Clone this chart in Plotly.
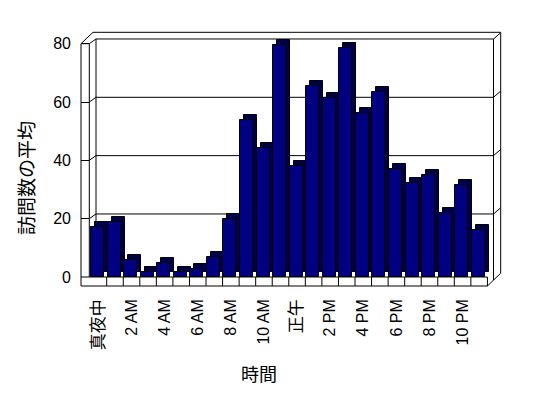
import plotly.graph_objects as go

# ---------------- data ----------------
hours = ["真夜中", "1 AM", "2 AM", "3 AM", "4 AM", "5 AM", "6 AM", "7 AM",
         "8 AM", "9 AM", "10 AM", "11 AM", "正午", "1 PM", "2 PM", "3 PM",
         "4 PM", "5 PM", "6 PM", "7 PM", "8 PM", "9 PM", "10 PM", "11 PM"]
avg_visits = [17.2, 18.9, 5.9, 1.6, 4.8, 1.6, 2.9, 6.9, 19.9, 53.7, 44.3, 79.7,
              38.2, 65.4, 61.4, 78.6, 56.3, 63.5, 37.1, 32.3, 35.0, 22.1, 31.4, 16.2]
y_tick_values = [0, 20, 40, 60, 80]
x_title = "時間"
y_title = "訪問数の平均"

# ---------------- layout constants (page pixels) ----------------
PAGE_W, PAGE_H = 548, 398
BODY = 8                                   # default page body margin
W, H = PAGE_W - BODY, PAGE_H - BODY
ML, MR, MT, MB = 81, 47, 32, 121           # plot domain in page pixels
Y_MAX = 84
X_RANGE = [-1.053, 24.32]
PLOT_W = PAGE_W - ML - MR
PLOT_H = PAGE_H - MT - MB
PPU = PLOT_H / Y_MAX                       # px per y unit
PPC = PLOT_W / (X_RANGE[1] - X_RANGE[0])   # px per category
FLOOR_Y = PAGE_H - MB                      # page px of y=0

FRONT_OFF = -7.425 / PPC
BAR_W = 13.0 / PPC
DEPTH_X = 4.0 / PPC
DEPTH_Y = 5.0 / PPU

NAVY = "#000080"
SHADE = "#000048"
FONT = "Liberation Sans, Arial, Noto Sans CJK JP, sans-serif"


def px(xp):
    return (xp - ML) / PLOT_W


def py(yp):
    return (FLOOR_Y - yp) / PLOT_H


def ypix(v):
    return FLOOR_Y - v * PPU


def is_cjk(s):
    return any(ord(c) > 0x2E80 for c in s)


def tick_text(s):
    if is_cjk(s):
        return '<span style="font-size:17px">%s</span>' % s
    return s


fig = go.Figure()

# depth (side/top) faces
fig.add_trace(go.Bar(
    x=hours, y=avg_visits, base=DEPTH_Y,
    offset=FRONT_OFF + DEPTH_X, width=BAR_W,
    marker=dict(color=SHADE, line=dict(color="black", width=1)),
    hoverinfo="skip", showlegend=False))

# front faces
fig.add_trace(go.Bar(
    x=hours, y=avg_visits,
    offset=FRONT_OFF, width=BAR_W,
    marker=dict(color=NAVY, line=dict(color="black", width=1)),
    showlegend=False))

shapes = []


def pline(x0, y0, x1, y1, layer="below"):
    shapes.append(dict(type="line", xref="paper", yref="paper",
                       x0=px(x0), y0=py(y0), x1=px(x1), y1=py(y1),
                       line=dict(color="black", width=1), layer=layer))


# wall geometry in page pixels
L_OUT, L_IN, B_L, B_R, R_OUT = 81, 89.3, 96, 493.5, 500.7
TOP_OUT = 32.3
BACK_DY = 4.7
RIGHT_DY = 6.2
top_front = ypix(80)
last = len(hours) - 0.5
xr = ML + (last - X_RANGE[0]) * PPC        # right end of floor front

pline(L_OUT, top_front, L_OUT, FLOOR_Y + 9)
pline(L_IN, top_front, L_IN, FLOOR_Y)
pline(L_OUT, top_front, L_IN, top_front)
pline(L_OUT, top_front, 93, TOP_OUT)
pline(93, TOP_OUT, R_OUT, TOP_OUT)
pline(R_OUT, TOP_OUT, R_OUT, FLOOR_Y - 3.8)
pline(B_R, top_front - BACK_DY, B_R, FLOOR_Y + 3)
pline(B_L, top_front - BACK_DY, B_L, FLOOR_Y - BACK_DY)

# gridlines on walls, tied to the y scale
for v in y_tick_values[1:]:
    yb = v + BACK_DY / PPU
    yr = v + (BACK_DY + RIGHT_DY) / PPU
    for (xa, ya, xb, yb2) in [(px(L_IN), v, px(B_L), yb),
                              (px(B_L), yb, px(B_R), yb),
                              (px(B_R), yb, px(R_OUT), yr)]:
        shapes.append(dict(type="line", xref="paper", yref="y",
                           x0=xa, y0=ya, x1=xb, y1=yb2,
                           line=dict(color="black", width=1), layer="below"))

# floor slab
for yy in (FLOOR_Y, FLOOR_Y + 9):
    shapes.append(dict(type="line", xref="paper", yref="paper", x0=0, x1=px(xr),
                       y0=py(yy), y1=py(yy), line=dict(color="black", width=1)))
for i in range(len(hours)):
    shapes.append(dict(type="line", xref="x", yref="paper", x0=i + 0.5, x1=i + 0.5,
                       y0=py(FLOOR_Y), y1=py(FLOOR_Y + 9), line=dict(color="black", width=1)))
pline(xr, FLOOR_Y + 9, R_OUT, FLOOR_Y - 3.8, layer="above")

annotations = [
    dict(text=x_title, xref="paper", yref="paper", x=px(259), y=py(375),
         xanchor="center", yanchor="middle",
         showarrow=False, font=dict(family=FONT, size=18, color="black")),
    dict(text=y_title, xref="paper", yref="paper", x=px(27), y=py(178),
         xanchor="center", yanchor="middle",
         showarrow=False, textangle=-90, font=dict(family=FONT, size=19, color="black")),
]

fig.update_layout(
    width=W, height=H,
    margin=dict(l=ML - BODY, r=MR, t=MT - BODY, b=MB, pad=0, autoexpand=False),
    paper_bgcolor="white", plot_bgcolor="white",
    barmode="overlay", bargap=0,
    shapes=shapes, annotations=annotations,
    xaxis=dict(type="category", range=X_RANGE, showgrid=False, zeroline=False,
               showline=False, ticks="", tickangle=-90,
               tickvals=hours[::2], ticktext=[tick_text(h) for h in hours[::2]],
               ticklabelstandoff=18, automargin=False,
               tickfont=dict(family=FONT, size=16, color="black")),
    yaxis=dict(range=[0, Y_MAX], showgrid=False, zeroline=False, showline=False,
               tickvals=y_tick_values, ticks="inside", ticklen=8, tickcolor="black",
               tickwidth=1, ticklabelstandoff=9, automargin=False,
               tickfont=dict(family=FONT, size=16, color="black")),
    showlegend=False,
)

fig.write_html("out.html")
